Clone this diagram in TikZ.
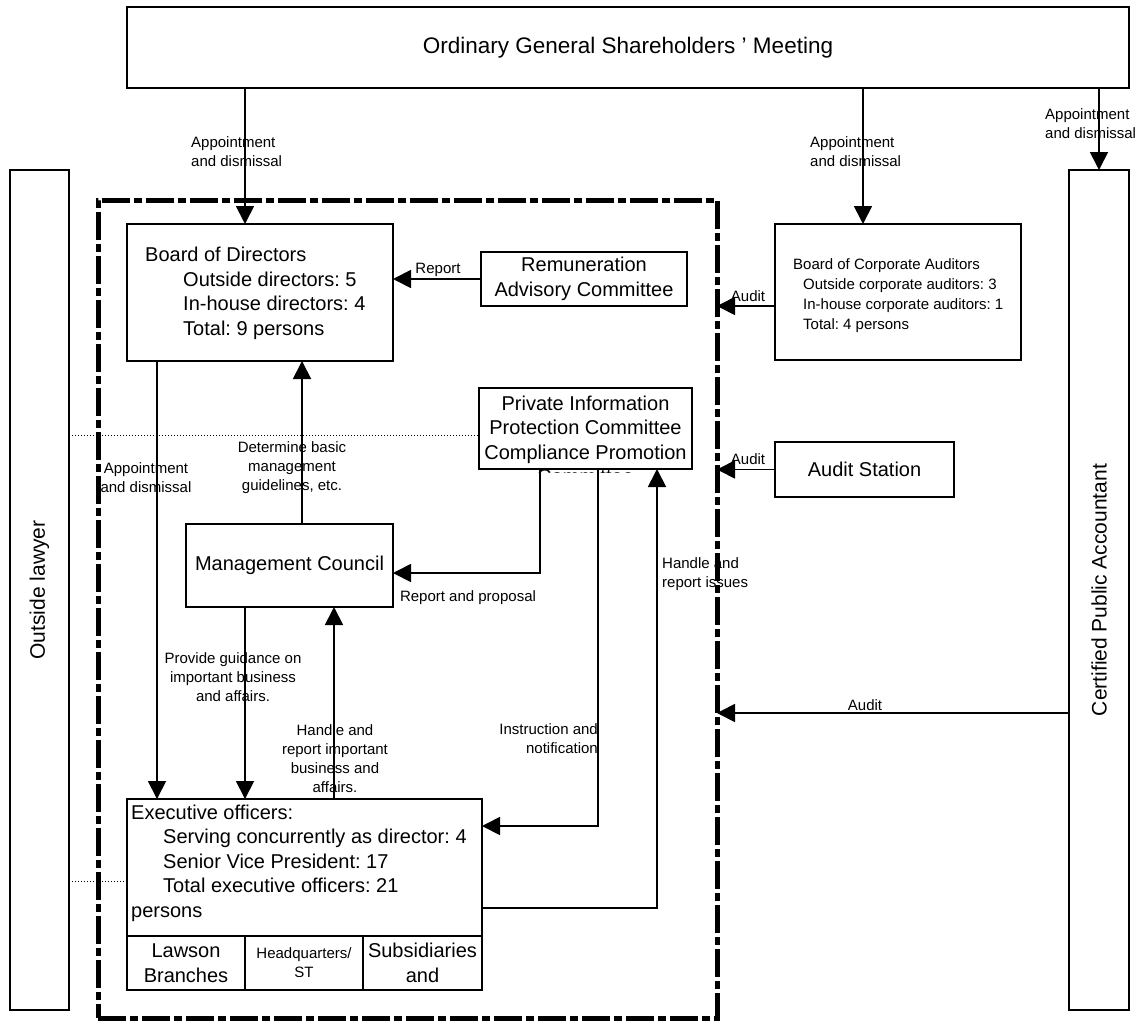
\documentclass[tikz,border=0pt]{standalone}
\usepackage{fontspec}
\setmainfont{Liberation Sans}
\usetikzlibrary{arrows.meta,calc}
\frenchspacing
\begin{document}
\begin{tikzpicture}[x=1pt,y=-1pt,
  box/.style={draw,line width=2pt,rectangle,inner sep=0pt,outer sep=0pt},
  frm/.style={draw,line width=5pt,rectangle,inner sep=0pt,outer sep=0pt,dash pattern=on 28pt off 4pt on 8pt off 4pt},
  arr/.style={line width=1.8pt,-{Triangle[length=18pt,width=18pt]}},
  dot/.style={line width=1pt,dotted},
  lbl/.style={font=\fontsize{15}{19}\selectfont,inner sep=0pt},
  big/.style={font=\fontsize{20}{24.5}\selectfont,inner sep=0pt},
  sml/.style={font=\fontsize{15}{20}\selectfont,inner sep=0pt},
  vert/.style={font=\fontsize{21}{25}\selectfont,inner sep=0pt,rotate=90}
]
\useasboundingbox (0,0) rectangle (1135,1025);

% frame
\node[frm,minimum width=619pt,minimum height=818pt] (fr) at (407.5,609) {};

% boxes
\node[box,minimum width=1002pt,minimum height=81pt,font=\fontsize{22.5}{27}\selectfont] (gm) at (628,47.5) {Ordinary General Shareholders ' Meeting};
\node[box,minimum width=59pt,minimum height=840pt] (law) at (39.5,590) {};
\node[vert] (lawt) at (law.center) {Outside lawyer};
\node[box,minimum width=60pt,minimum height=840pt] (cpa) at (1099,590) {};
\node[vert] (cpat) at (cpa.center) {Certified Public Accountant};

\node[box,minimum width=266pt,minimum height=137pt] (bod) at (260,292.5) {};
\node[big,align=left,anchor=west] (bodt) at (145,293.5) {Board of Directors\\\hspace*{38pt}Outside directors: 5\\\hspace*{38pt}In-house directors: 4\\\hspace*{38pt}Total: 9 persons};

\node[box,big,align=center,minimum width=206pt,minimum height=54pt] (rem) at (584,279) {Remuneration\\Advisory Committee};

\node[box,minimum width=246pt,minimum height=136pt] (bca) at (898,292) {};
\node[sml,align=left,anchor=west] (bcat) at (793,295.5) {Board of Corporate Auditors\\\hspace*{10pt}Outside corporate auditors: 3\\\hspace*{10pt}In-house corporate auditors: 1\\\hspace*{10pt}Total: 4 persons};

\node[box,minimum width=213pt,minimum height=81pt] (pi) at (585.5,428.5) {};
\begin{scope}
\clip (479,388) rectangle (692,472.5);
\node[big,align=center] (pit) at (585.5,440) {Private Information\\Protection Committee\\Compliance Promotion\\Committee};
\end{scope}

\node[box,big,minimum width=179pt,minimum height=55pt] (as) at (864.5,469.5) {Audit Station};
\node[box,big,minimum width=207pt,minimum height=83pt] (mc) at (289.5,565.5) {Management Council};

\node[box,minimum width=355pt,minimum height=137pt] (exec) at (304.5,867.5) {};
\node[big,align=left,anchor=west] (exect) at (131,863) {Executive officers:\\\hspace*{32pt}Serving concurrently as director: 4\\\hspace*{32pt}Senior Vice President: 17\\\hspace*{32pt}Total executive officers: 21\\persons};
\node[box,big,align=center,minimum width=118pt,minimum height=54pt] (lawson) at (186,963) {Lawson\\Branches};
\node[box,lbl,align=center,minimum width=118pt,minimum height=54pt] (hq) at (304,963) {Headquarters/\\ST};
\node[box,big,align=center,minimum width=119pt,minimum height=54pt] (subs) at (422.5,963) {Subsidiaries\\and};

% connectors
\draw[arr] (gm.south -| 245,0) -- (bod.north -| 245,0);
\draw[arr] (gm.south -| 863,0) -- (bca.north -| 863,0);
\draw[arr] (gm.south -| 1099,0) -- (cpa.north);
\draw[arr] (rem.west) -- (bod.east |- rem.west);
\draw[arr] (bca.west |- 0,306) -- (fr.east |- 0,306);
\draw[arr] (as.west) -- (as.west -| fr.east);
\draw[arr] (cpa.west |- 0,713) -- (fr.east |- 0,713);
\draw[arr] (bod.south -| 157,0) -- (exec.north -| 157,0);
\draw[arr] (mc.north -| 302,0) -- (bod.south -| 302,0);
\draw[arr] (pi.south -| 540,0) |- (mc.east |- 0,573);
\draw[arr] (pi.south -| 598,0) |- (exec.east |- 0,826);
\draw[arr] (exec.east |- 0,908) -| (pi.south -| 657,0);
\draw[arr] (mc.south -| 245,0) -- (exec.north -| 245,0);
\draw[arr] (exec.north -| 334,0) -- (mc.south -| 334,0);
\draw[dot] (law.east |- 0,435) -- (pi.west |- 0,435);
\draw[dot] (law.east |- 0,881) -- (exec.west |- 0,881);

% labels
\node[lbl,align=left,anchor=west] (l1) at (191,152) {Appointment\\and dismissal};
\node[lbl,align=left,anchor=west] (l2) at (810,152) {Appointment\\and dismissal};
\node[lbl,align=left,anchor=west] (l3) at (1045,124) {Appointment\\and dismissal};
\node[lbl] (l4) at (438,270) {Report};
\node[lbl] (l5) at (748,296) {Audit};
\node[lbl] (l6) at (748,459) {Audit};
\node[lbl] (l7) at (865,705) {Audit};
\node[lbl,align=center] (l8) at (146,478) {Appointment\\and dismissal};
\node[lbl,align=center] (l9) at (292,468) {Determine basic\\management\\guidelines, etc.};
\node[lbl] (l10) at (468,598) {Report and proposal};
\node[lbl,align=right,anchor=east] (l11) at (598,739) {Instruction and\\notification};
\node[lbl,align=left,anchor=west] (l12) at (662,574) {Handle and\\report issues};
\node[lbl,align=center] (l13) at (233,677) {Provide guidance on\\important business\\and affairs.};
\node[lbl,align=center] (l14) at (335,759) {Handle and\\report important\\business and\\affairs.};
\end{tikzpicture}
\end{document}
